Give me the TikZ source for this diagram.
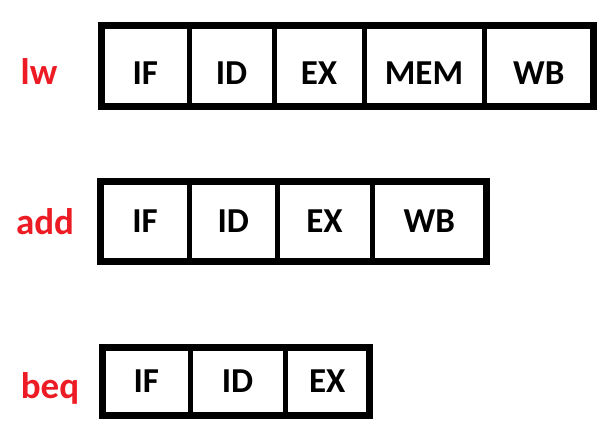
\documentclass[tikz,border=0pt]{standalone}
\usepackage{fontspec}
\setmainfont{Carlito}
\usepackage{xcolor}
\usepackage{tikz}
\usetikzlibrary{positioning}
\definecolor{tagred}{RGB}{237,28,36}

\begin{document}
\begin{tikzpicture}[
    x=1pt, y=-1pt,
    node distance=0pt,
    stage/.style={rectangle, draw, line width=5pt, outer sep=0pt, inner sep=0pt, text height=22.5pt, text depth=0pt, font=\fontsize{35}{35}\selectfont\bfseries},
    lwrow/.style={stage, minimum height=80.5pt, text height=36.5pt},
    addrow/.style={stage, minimum height=80pt},
    beqrow/.style={stage, minimum height=68pt},
    frame/.style={draw, line width=7pt},
    tag/.style={anchor=base, text=tagred, inner sep=0pt, font=\fontsize{37}{37}\selectfont\bfseries}
]
\useasboundingbox (0,0) rectangle (613,430);

% lw
\node[lwrow, minimum width=87.5pt, anchor=west] (lwIF) at (101.5,66) {IF};
\node[lwrow, minimum width=85pt, right=of lwIF] (lwID) {ID};
\node[lwrow, minimum width=90pt, right=of lwID] (lwEX) {EX};
\node[lwrow, minimum width=120pt, right=of lwEX] (lwMEM) {MEM};
\node[lwrow, minimum width=109.5pt, right=of lwMEM] (lwWB) {WB};
\draw[frame] (lwIF.north west) rectangle (lwWB.south east);
\node[tag] (lw) at (39,85) {lw};

% add
\node[addrow, minimum width=89pt, anchor=west] (addIF) at (100.5,221.5) {IF};
\node[addrow, minimum width=87.5pt, right=of addIF] (addID) {ID};
\node[addrow, minimum width=95pt, right=of addID] (addEX) {EX};
\node[addrow, minimum width=114.5pt, right=of addEX] (addWB) {WB};
\draw[frame] (addIF.north west) rectangle (addWB.south east);
\node[tag] (add) at (45,235) {add};

% beq
\node[beqrow, minimum width=87.5pt, anchor=west] (beqIF) at (102.5,381.5) {IF};
\node[beqrow, minimum width=95pt, right=of beqIF] (beqID) {ID};
\node[beqrow, minimum width=84.5pt, right=of beqID] (beqEX) {EX};
\draw[frame] (beqIF.north west) rectangle (beqEX.south east);
\node[tag] (beq) at (50,398) {beq};
\end{tikzpicture}
\end{document}
